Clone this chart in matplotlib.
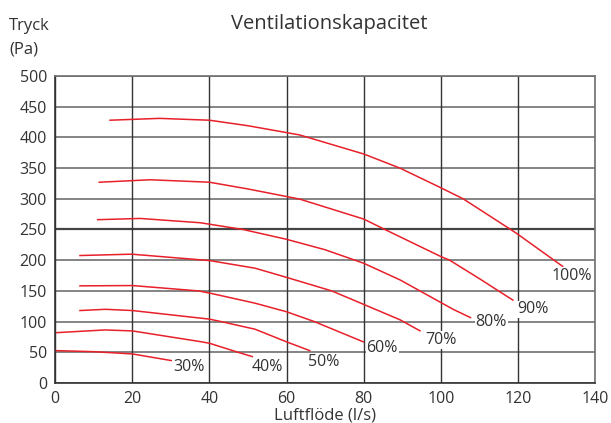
import matplotlib.pyplot as plt

plt.rcParams['font.family'] = ['Open Sans', 'DejaVu Sans']

# Fläktkurvor (luftflöde l/s, tryck Pa)
x100 = [14.2, 27, 40, 50, 63.4, 80, 89.4, 100, 105.8, 119.6, 131.6]
y100 = [428, 431, 428, 419, 404, 373, 350, 318, 300, 244, 190]

x90 = [11.4, 24.6, 40, 50, 63.4, 80, 85.5, 100, 102.3, 110, 118.7]
y90 = [327, 331, 327, 316, 299.5, 267, 250, 206, 200, 170, 135]

x80 = [11, 22, 37.6, 48.7, 60, 70, 80, 89.4, 103.2, 107.7]
y80 = [266, 268, 261, 250, 234, 217, 195, 168, 120, 106.5]

x70 = [6.4, 19.8, 40, 51.8, 60, 71.7, 80, 89.4, 94.6]
y70 = [207.6, 209.8, 199.4, 187, 172, 150, 128, 103, 85]

x60 = [6.4, 20, 37.1, 40, 51.8, 60, 67.2, 79.9]
y60 = [158.2, 158.7, 150, 146.5, 130, 116, 100, 67]

x50 = [6.4, 13, 20, 40, 43, 51.8, 60, 66]
y50 = [118, 120, 118, 104, 100, 87.6, 67, 52.7]

x40 = [0.4, 12.9, 20, 37.6, 40, 47.4, 51.1]
y40 = [82, 86.4, 84.8, 67.4, 64.7, 50, 43]

x30 = [0.3, 10, 20, 30.2]
y30 = [52.7, 51, 47.3, 36.4]

curves = [(x30, y30), (x40, y40), (x50, y50), (x60, y60),
          (x70, y70), (x80, y80), (x90, y90), (x100, y100)]

labels = ['30%', '40%', '50%', '60%', '70%', '80%', '90%', '100%']
label_x = [30.5, 50.9, 65.6, 80.7, 95.9, 109, 119.8, 128.7]
label_y = [26.7, 26.7, 34.7, 56.5, 70, 100, 120, 174.5]

x_ticks = [0, 20, 40, 60, 80, 100, 120, 140]
y_ticks = [0, 50, 100, 150, 200, 250, 300, 350, 400, 450, 500]

text_color = '#333333'

fig = plt.figure(figsize=(6.11, 4.23), dpi=100)
ax = fig.add_axes([0.0905, 0.0946, 0.8833, 0.7257])

# rutnät
for yv in y_ticks:
    ax.axhline(yv, color='#444444' if yv == 250 else '#707070',
               lw=1.6 if yv == 250 else 1.2, zorder=1)
for xv in x_ticks:
    ax.axvline(xv, color='#333333', lw=1.0, zorder=1)

for cx, cy in curves:
    ax.plot(cx, cy, color='#e8202a', lw=1.1, zorder=3)

for lab, lx, ly in zip(labels, label_x, label_y):
    ax.text(lx, ly, lab, fontsize=11.5, color=text_color, ha='left', va='center',
            bbox=dict(facecolor='white', edgecolor='none', pad=0.6), zorder=4)

ax.set_xlim(0, 140)
ax.set_ylim(0, 500)
ax.set_xticks(x_ticks)
ax.set_yticks(y_ticks)
ax.tick_params(length=0, labelsize=11.5, colors=text_color, pad=6)
for side in ['top', 'right']:
    ax.spines[side].set_color('#707070')
    ax.spines[side].set_linewidth(1.2)
for side in ['left', 'bottom']:
    ax.spines[side].set_color('#333333')
    ax.spines[side].set_linewidth(1.2)

ax.set_xlabel('Luftflöde (l/s)', fontsize=12, color=text_color, labelpad=0)

fig.text(329 / 611, 1 - 29 / 423, 'Ventilationskapacitet', fontsize=14.5,
         color=text_color, ha='center', va='baseline')
fig.text(9 / 611, 1 - 30 / 423, 'Tryck', fontsize=12, color=text_color,
         ha='left', va='baseline')
fig.text(9 / 611, 1 - 54 / 423, '(Pa)', fontsize=12, color=text_color,
         ha='left', va='baseline')

fig.savefig('out.png', dpi=100)
